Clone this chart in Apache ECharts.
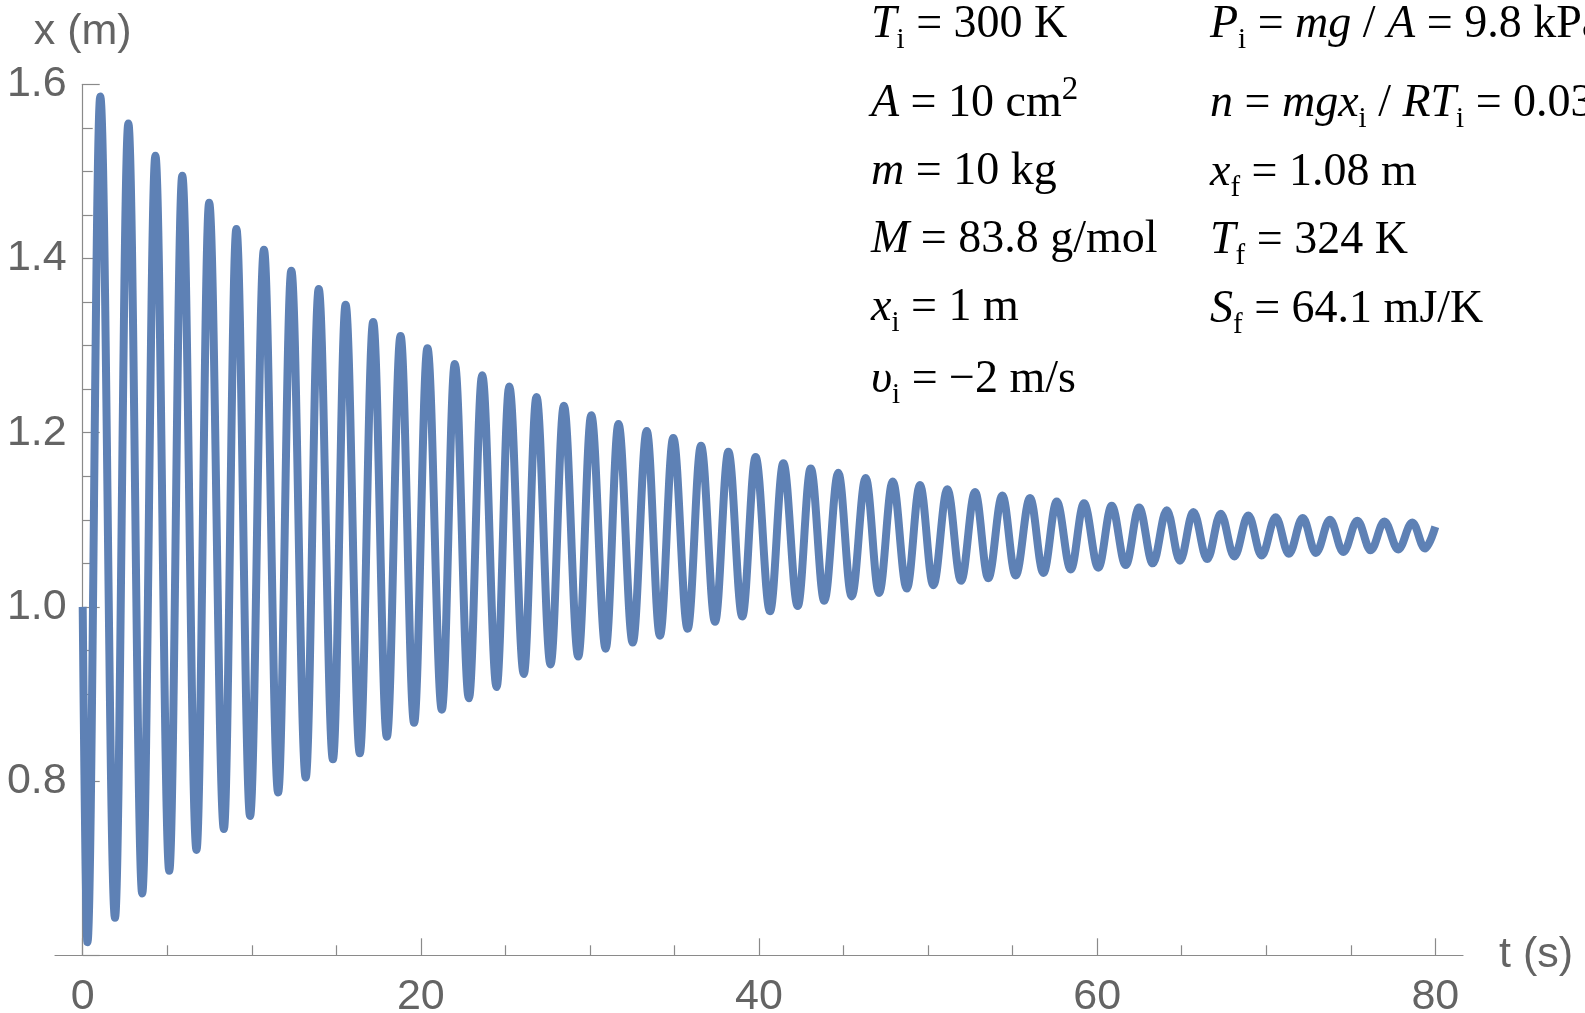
<!DOCTYPE html>
<html>
<head>
<meta charset="utf-8">
<style>
  html, body { margin: 0; padding: 0; background: #fff; }
  #chart { width: 1585px; height: 1013px; }
</style>
<script src="https://cdn.jsdelivr.net/npm/echarts@6/dist/echarts.min.js"></script>
</head>
<body>
<div id="chart"></div>
<script>
// extrema of the oscillation (t in s, x in m)
const peakTimes = [1.04, 2.70, 4.30, 5.89, 7.48, 9.09, 10.72, 12.34, 13.96, 15.55,
  17.18, 18.80, 20.39, 22.01, 23.63, 25.23, 26.84, 28.46, 30.08, 31.69,
  33.36, 34.93, 36.57, 38.19, 39.80, 41.44, 43.06, 44.69, 46.31, 47.91,
  49.52, 51.14, 52.78, 54.39, 56.03, 57.61, 59.22, 60.86, 62.48, 64.12,
  65.69, 67.31, 68.94, 70.56, 72.16, 73.77, 75.39, 76.99, 78.64];
const peakValues = [1.586, 1.555, 1.518, 1.495, 1.464, 1.434, 1.410, 1.386, 1.365, 1.347,
  1.327, 1.311, 1.297, 1.279, 1.266, 1.253, 1.241, 1.231, 1.220, 1.210,
  1.202, 1.194, 1.185, 1.178, 1.172, 1.165, 1.159, 1.154, 1.148, 1.144,
  1.140, 1.135, 1.132, 1.128, 1.125, 1.121, 1.119, 1.116, 1.114, 1.111,
  1.109, 1.107, 1.105, 1.103, 1.102, 1.100, 1.099, 1.098, 1.097];
const troughTimes = [0.28, 1.91, 3.52, 5.12, 6.73, 8.35, 9.90, 11.56, 13.19, 14.80,
  16.39, 17.99, 19.60, 21.24, 22.84, 24.48, 26.09, 27.67, 29.31, 30.93,
  32.53, 34.14, 35.78, 37.40, 39.01, 40.65, 42.29, 43.86, 45.48, 47.10,
  48.74, 50.31, 51.95, 53.56, 55.18, 56.82, 58.44, 60.07, 61.69, 63.29,
  64.90, 66.51, 68.11, 69.73, 71.34, 72.94, 74.56, 76.18, 77.81, 79.39];
const troughValues = [0.615, 0.643, 0.671, 0.697, 0.721, 0.745, 0.760, 0.787, 0.804, 0.825,
  0.832, 0.851, 0.867, 0.882, 0.895, 0.908, 0.923, 0.934, 0.943, 0.952,
  0.959, 0.967, 0.975, 0.983, 0.989, 0.995, 1.001, 1.007, 1.012, 1.016,
  1.021, 1.025, 1.030, 1.033, 1.036, 1.039, 1.043, 1.045, 1.048, 1.050,
  1.053, 1.055, 1.058, 1.059, 1.061, 1.062, 1.063, 1.065, 1.066, 1.067];
const startPoint = [0, 1.0];
const endPoint = [80, 1.092];

const xMajorTicks = [0, 20, 40, 60, 80];
const xMinorTicks = [5, 10, 15, 25, 30, 35, 45, 50, 55, 65, 70, 75];
const yLabels = [0.8, 1.0, 1.2, 1.4, 1.6];

const leftLines = [
  '{it|T}{sub|i}{rm| = 300 K}',
  '{it|A}{rm| = 10 cm}{sup|2}',
  '{it|m}{rm| = 10 kg}',
  '{it|M}{rm| = 83.8 g/mol}',
  '{it|x}{sub|i}{rm| = 1 m}',
  '{it|υ}{sub|i}{rm| = −2 m/s}'
];
const rightLines = [
  '{it|P}{sub|i}{rm| = }{it|mg}{rm| / }{it|A}{rm| = 9.8 kPa}',
  '{it|n}{rm| = }{it|mgx}{sub|i}{rm| / }{it|RT}{sub|i}{rm| = 0.0393 mol}',
  '{it|x}{sub|f}{rm| = 1.08 m}',
  '{it|T}{sub|f}{rm| = 324 K}',
  '{it|S}{sub|f}{rm| = 64.1 mJ/K}'
];

const points = [];
peakTimes.forEach((t, i) => points.push([t, peakValues[i]]));
troughTimes.forEach((t, i) => points.push([t, troughValues[i]]));
points.sort((a, b) => a[0] - b[0]);
const lineData = [startPoint].concat(points, [endPoint]);

const gray = '#646464';
const axisGray = '#8a8a8a';
const sans = 'Liberation Sans, Arial, sans-serif';
const serif = 'Liberation Serif, Times New Roman, serif';

const rich = {
  it: { fontFamily: serif, fontStyle: 'italic', fontSize: 46, lineHeight: 60 },
  rm: { fontFamily: serif, fontSize: 46, lineHeight: 60 },
  sub: { fontFamily: serif, fontSize: 29, lineHeight: 26, verticalAlign: 'bottom' },
  sup: { fontFamily: serif, fontSize: 33, lineHeight: 49, verticalAlign: 'top' }
};

function textRows(lines, x, baselines) {
  return lines.map((txt, i) => ({
    type: 'text',
    x: x,
    y: baselines[i] - 45,
    silent: true,
    style: { text: txt, rich: rich, fill: '#000', align: 'left', verticalAlign: 'top' }
  }));
}

const tickStyle = { color: axisGray, width: 1.2 };

const chart = echarts.init(document.getElementById('chart'));
const option = {
  animation: false,
  backgroundColor: '#fff',
  grid: [
    // plot area: t = 0..80, x = 0.6..1.6
    { left: 82.7, right: 149.7, top: 84.3, bottom: 57.7, outerBoundsMode: 'none' },
    // only carries the longer t axis line and its name
    { left: 55, right: 122, top: 84.3, bottom: 57.7, outerBoundsMode: 'none' }
  ],
  xAxis: [
    {
      type: 'value', gridIndex: 0, min: 0, max: 80,
      axisLine: { show: false },
      axisTick: { inside: true, length: 17, customValues: xMajorTicks, lineStyle: tickStyle },
      axisLabel: { customValues: xMajorTicks, margin: 20, fontFamily: sans, fontSize: 43, color: gray },
      splitLine: { show: false }
    },
    {
      type: 'value', gridIndex: 0, min: 0, max: 80, position: 'bottom',
      axisLine: { show: false },
      axisTick: { inside: true, length: 10, customValues: xMinorTicks, lineStyle: tickStyle },
      axisLabel: { show: false },
      splitLine: { show: false }
    },
    {
      type: 'value', gridIndex: 1, min: 0, max: 1,
      name: 't (s)', nameLocation: 'end', nameGap: 36,
      nameTextStyle: { fontFamily: sans, fontSize: 43, color: gray },
      axisLine: { onZero: false, lineStyle: tickStyle },
      axisTick: { show: false },
      axisLabel: { show: false },
      splitLine: { show: false }
    }
  ],
  yAxis: [
    {
      type: 'value', gridIndex: 0, min: 0.6, max: 1.6, interval: 0.2,
      name: 'x (m)', nameLocation: 'end', nameGap: 31,
      nameTextStyle: { fontFamily: sans, fontSize: 43, color: gray },
      axisLine: { show: true, onZero: false, lineStyle: tickStyle },
      axisTick: { show: true, inside: true, length: 17, lineStyle: tickStyle },
      minorTick: { show: true, splitNumber: 4, length: 10, lineStyle: tickStyle },
      axisLabel: { customValues: yLabels, margin: 16, fontFamily: sans, fontSize: 43, color: gray,
        formatter: v => v.toFixed(1) },
      splitLine: { show: false }
    },
    {
      type: 'value', gridIndex: 1, min: 0, max: 1, show: false
    }
  ],
  series: [{
    type: 'line',
    xAxisIndex: 0,
    yAxisIndex: 0,
    data: lineData,
    smooth: 0.36,
    smoothMonotone: 'x',
    showSymbol: false,
    clip: false,
    lineStyle: { color: '#5E81B5', width: 8 }
  }],
  graphic: textRows(leftLines, 871, [40, 119, 187, 255, 323, 395])
    .concat(textRows(rightLines, 1210, [40, 119, 188, 256, 325]))
};
chart.setOption(option);
</script>
</body>
</html>
